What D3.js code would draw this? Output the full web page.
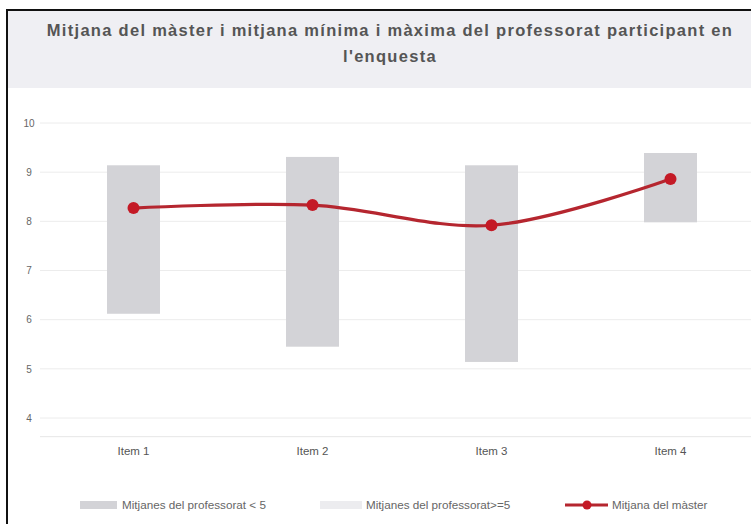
<!DOCTYPE html>
<html><head><meta charset="utf-8">
<script src="https://cdn.jsdelivr.net/npm/d3@7"></script>
<style>
html,body{margin:0;padding:0;background:#fff;}
svg{display:block;font-family:"Liberation Sans",Arial,sans-serif;}
</style></head>
<body><svg id="c" width="751" height="524"></svg>
<script>
const categories = ["Item 1","Item 2","Item 3","Item 4"];
const profMin = [6.12, 5.45, 5.14, 7.98];
const profMax = [9.14, 9.31, 9.14, 9.39];
const masterMean = [8.27, 8.33, 7.92, 8.86];
const yTicks = [4,5,6,7,8,9,10];
const titleLines = ["Mitjana del màster i mitjana mínima i màxima del professorat participant en","l'enquesta"];
const legendLabels = ["Mitjanes del professorat < 5","Mitjanes del professorat>=5","Mitjana del màster"];

const svg = d3.select("#c");
// frame
svg.append("rect").attr("x",0).attr("y",0).attr("width",751).attr("height",524).attr("fill","#fff");
svg.append("rect").attr("x",8).attr("y",11).attr("width",743).attr("height",77).attr("fill","#efeff3");
svg.append("line").attr("x1",7).attr("x2",7).attr("y1",9).attr("y2",524).attr("stroke","#111").attr("stroke-width",2);
svg.append("line").attr("x1",6).attr("x2",751).attr("y1",10).attr("y2",10).attr("stroke","#111").attr("stroke-width",2);

// title
const t = svg.append("text").attr("text-anchor","middle").attr("fill","#555")
  .style("font-size","16.5px").style("font-weight","bold");
const spans = titleLines.map((s,i)=>t.append("tspan").attr("x",390).attr("y",36+i*26).text(s));
const w0 = spans[0].node().getComputedTextLength();
const ls = (686 - w0) / titleLines[0].length;
t.style("letter-spacing", ls.toFixed(2)+"px");

const x = d3.scaleBand().domain(categories).range([44,760]);
const y = d3.scaleLinear().domain([4,10]).range([418,123]);

// grid
const g = svg.append("g");
g.selectAll("line.grid").data(yTicks).join("line")
  .attr("x1",40).attr("x2",751).attr("y1",d=>y(d)).attr("y2",d=>y(d))
  .attr("stroke","#ececec").attr("stroke-width",1);
g.append("line").attr("x1",40).attr("x2",751).attr("y1",y(3.62)).attr("y2",y(3.62)).attr("stroke","#e6e6e6");

// y axis labels
const yAxis = d3.axisLeft(y).tickValues(yTicks).tickFormat(d3.format("d")).tickSize(0).tickPadding(0);
const ya = svg.append("g").attr("transform","translate(29,0)").call(yAxis);
ya.select(".domain").remove();
ya.selectAll("text").attr("fill","#666").style("font-size","10px").attr("text-anchor","middle").attr("font-family","Liberation Sans, Arial, sans-serif");

// x axis labels
const xAxis = d3.axisBottom(x).tickSize(0).tickPadding(0);
const xa = svg.append("g").attr("transform","translate(0,447)").call(xAxis);
xa.select(".domain").remove();
xa.selectAll("text").attr("fill","#555").style("font-size","11.5px").attr("font-family","Liberation Sans, Arial, sans-serif");

// bars
const bw = 53;
svg.append("g").selectAll("rect").data(categories).join("rect")
  .attr("x",(d)=>x(d)+x.bandwidth()/2-bw/2)
  .attr("width",bw)
  .attr("y",(d,i)=>y(profMax[i]))
  .attr("height",(d,i)=>y(profMin[i])-y(profMax[i]))
  .attr("fill","#d3d3d7");

// line
const pts = categories.map((c,i)=>[x(c)+x.bandwidth()/2, y(masterMean[i])]);
svg.append("path").attr("d",d3.line().curve(d3.curveCatmullRom.alpha(0.5))(pts))
  .attr("fill","none").attr("stroke","#b5262f").attr("stroke-width",3.2);
svg.append("g").selectAll("circle").data(pts).join("circle")
  .attr("cx",d=>d[0]).attr("cy",d=>d[1]).attr("r",6).attr("fill","#c41a26");

// legend
const lg = svg.append("g").style("font-size","11.7px").attr("fill","#666");
lg.append("rect").attr("x",80).attr("y",501).attr("width",37).attr("height",8).attr("fill","#d3d3d7");
lg.append("text").attr("x",122).attr("y",509).text(legendLabels[0]);
lg.append("rect").attr("x",320).attr("y",501).attr("width",42).attr("height",8).attr("fill","#ececef");
lg.append("text").attr("x",366).attr("y",509).text(legendLabels[1]);
lg.append("line").attr("x1",565).attr("x2",608).attr("y1",505).attr("y2",505).attr("stroke","#b5262f").attr("stroke-width",3);
lg.append("circle").attr("cx",587).attr("cy",505).attr("r",4.5).attr("fill","#c41a26");
lg.append("text").attr("x",612).attr("y",509).text(legendLabels[2]);
</script></body></html>
